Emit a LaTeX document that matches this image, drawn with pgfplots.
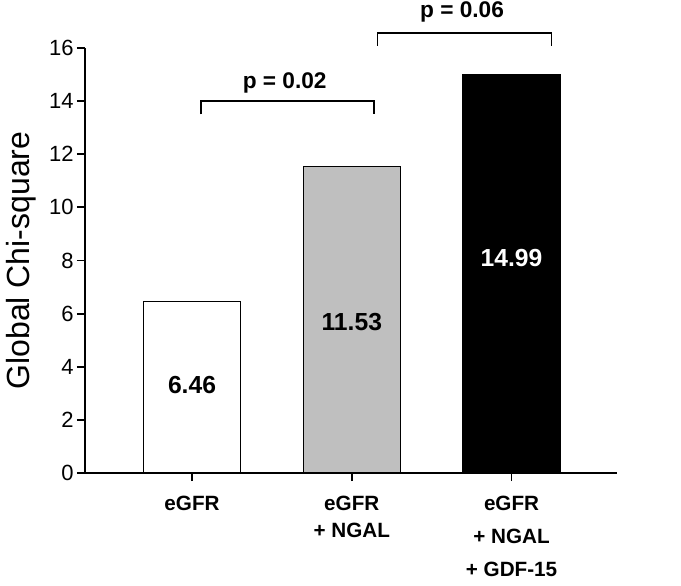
\documentclass[border=0pt]{standalone}
\usepackage{fontspec}
\setmainfont{Liberation Sans}
\usepackage{pgfplots}
\pgfplotsset{compat=1.18}
\begin{document}
\begin{tikzpicture}
\useasboundingbox (-63.75pt,-84pt) rectangle (447pt,354.75pt);
\begin{axis}[
  at={(0,0)}, anchor=south west,
  scale only axis, width=399pt, height=318.75pt,
  xmin=-0.67, xmax=2.66, ymin=0, ymax=16,
  axis x line*=bottom, axis y line*=left,
  axis line style={line width=1.4pt, -},
  ytick={0,2,...,16}, xtick={0,1,2},
  xticklabels={{eGFR},{eGFR\\[-4.5pt]+ NGAL},{eGFR\\+ NGAL\\+ GDF-15}},
  tick align=outside, major tick length=6pt,
  tick style={line width=1.4pt, black},
  /pgf/number format/assume math mode=true,
  yticklabel style={font=\fontsize{16.5}{18}\selectfont, xshift=1pt},
  xticklabel style={font=\fontsize{15.5}{24.75}\selectfont\bfseries, align=center, yshift=-8pt},
  ylabel={Global Chi-square},
  ylabel style={font=\fontsize{24}{26}\selectfont, yshift=3pt},
  ybar, bar width=72.75pt,
  clip=false,
]
\addplot[bar shift=0pt, draw=black, line width=1.1pt, fill=black!25] coordinates {(1,11.53)};
\addplot[bar shift=0pt, draw=black, line width=1.1pt, fill=white] coordinates {(0,6.46)};
\addplot[bar shift=0pt, draw=black, line width=1.1pt, fill=black] coordinates {(2,14.99)};
\node[font=\fontsize{18.5}{20}\selectfont\bfseries] at (axis cs:0,3.3) {6.46};
\node[font=\fontsize{18.5}{20}\selectfont\bfseries] at (axis cs:1,5.7) {11.53};
\node[font=\fontsize{18.5}{20}\selectfont\bfseries, text=white] at (axis cs:2,8.1) {14.99};
\draw[line width=1.1pt] (axis cs:0.056,13.5) -- (axis cs:0.056,14.0) -- (axis cs:1.14,14.0) -- (axis cs:1.14,13.5);
\draw[line width=1.1pt] (axis cs:1.16,16.08) -- (axis cs:1.16,16.57) -- (axis cs:2.25,16.57) -- (axis cs:2.25,16.08);
\node[font=\fontsize{17}{18}\selectfont\bfseries] at (axis cs:0.58,14.7) {p = 0.02};
\node[font=\fontsize{17}{18}\selectfont\bfseries] at (axis cs:1.69,17.36) {p = 0.06};
\end{axis}
\end{tikzpicture}
\end{document}
